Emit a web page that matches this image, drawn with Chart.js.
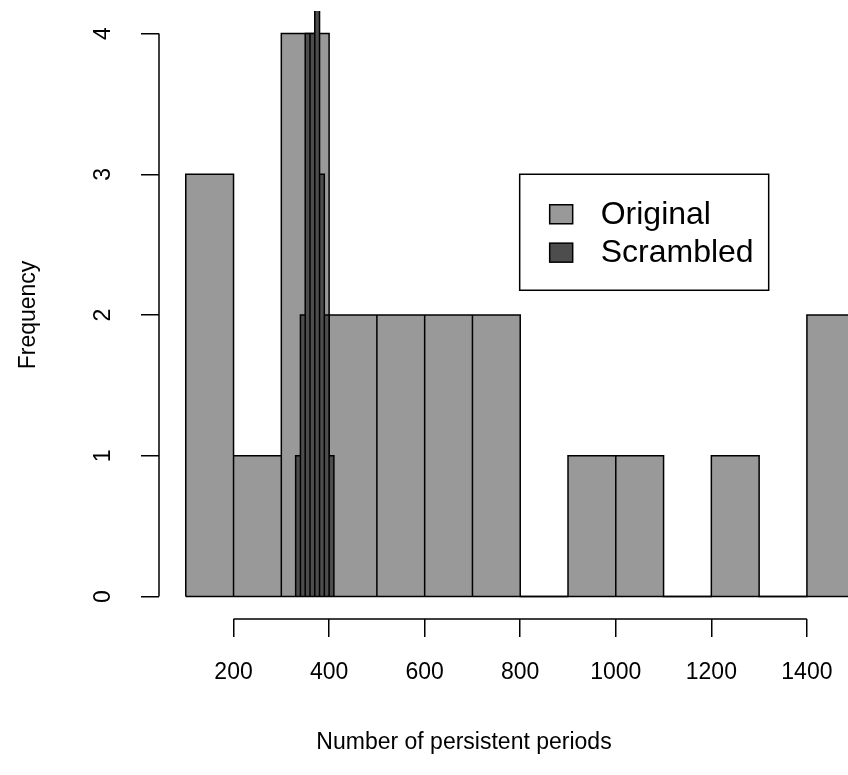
<!DOCTYPE html>
<html>
<head>
<meta charset="utf-8">
<script src="https://cdn.jsdelivr.net/npm/chart.js@4/dist/chart.umd.min.js"></script>
<style>
  html, body { margin: 0; padding: 0; background: #fff; overflow: hidden; }
  #wrap { width: 848px; height: 775px; }
</style>
</head>
<body>
<div id="wrap"><canvas id="histo" width="848" height="775"></canvas></div>
<script>
/*** datos del histograma */
var seriesNames = ['Original', 'Scrambled'];
var origBreaks = [100, 200, 300, 400, 500, 600, 700, 800, 900, 1000, 1100, 1200, 1300, 1400, 1500];
var origCounts = [3, 1, 4, 2, 2, 2, 2, 0, 1, 1, 0, 1, 0, 2];
var scrBreaks = [330, 340, 350, 360, 370, 380, 390, 400, 410];
var scrCounts = [1, 2, 4, 4, 5, 3, 2, 1];
var xTicks = [200, 400, 600, 800, 1000, 1200, 1400];
var yTicks = [0, 1, 2, 3, 4];

var xTitle = 'Number of persistent periods';
var yTitle = 'Frequency';

// colores tipo R: gray60 y gray30
var fillOrig = '#999999';
var fillScr = '#4d4d4d';

// contorno de barras (sube, cruza, baja) para cada clase
function outline(breaks, counts) {
    var pts = [];
    counts.forEach(function (c, i) {
        pts.push({x: breaks[i], y: 0});
        pts.push({x: breaks[i], y: c});
        pts.push({x: breaks[i + 1], y: c});
        pts.push({x: breaks[i + 1], y: 0});
    });
    return pts;
}

Chart.defaults.font.family = '"Liberation Sans", Arial, Helvetica, sans-serif';
Chart.defaults.color = '#000';

// ejes estilo R (linea solo entre primer y ultimo tick), titulo x y leyenda
var rStyle = {
    id: 'rStyle',
    afterDraw: function (chart) {
        var ctx = chart.ctx;
        var x = chart.scales.x, y = chart.scales.y;
        ctx.save();
        ctx.strokeStyle = '#000';
        ctx.lineWidth = 1.5;
        ctx.beginPath();
        ctx.moveTo(x.getPixelForValue(xTicks[0]), x.top);
        ctx.lineTo(x.getPixelForValue(xTicks[xTicks.length - 1]), x.top);
        ctx.moveTo(y.right, y.getPixelForValue(yTicks[0]));
        ctx.lineTo(y.right, y.getPixelForValue(yTicks[yTicks.length - 1]));
        ctx.stroke();

        // titulo eje x
        ctx.fillStyle = '#000';
        ctx.font = '23px "Liberation Sans", Arial, sans-serif';
        ctx.textAlign = 'center';
        ctx.textBaseline = 'middle';
        ctx.fillText(xTitle, 464, 743);

        // leyenda (esquina sup. derecha en x=1320, y=3)
        var right = x.getPixelForValue(1320);
        var top = y.getPixelForValue(3);
        var w = 249, h = 116;
        var left = right - w;
        ctx.lineWidth = 1.5;
        ctx.strokeRect(left, top, w, h);
        var fills = [fillOrig, fillScr];
        ctx.font = '32px "Liberation Sans", Arial, sans-serif';
        ctx.textAlign = 'left';
        seriesNames.forEach(function (name, i) {
            var cy = top + 40 + i * 38.4;
            ctx.fillStyle = fills[i];
            ctx.fillRect(left + 30, cy - 9.5, 23, 19);
            ctx.strokeRect(left + 30, cy - 9.5, 23, 19);
            ctx.fillStyle = '#000';
            ctx.fillText(name, left + 81, cy + 1);
        });
        ctx.restore();
    }
};

var ctx = document.getElementById('histo').getContext('2d');
var histo = new Chart(ctx, {
    type: 'line',
    data: {
        datasets: [
            {
                label: seriesNames[0],
                data: outline(origBreaks, origCounts),
                borderColor: '#000',
                backgroundColor: fillOrig,
                borderWidth: 1.5,
                fill: 'origin',
                order: 2
            },
            {
                label: seriesNames[1],
                data: outline(scrBreaks, scrCounts),
                borderColor: '#000',
                backgroundColor: fillScr,
                borderWidth: 1.5,
                fill: 'origin',
                order: 1
            },
            {
                // base de las barras
                label: 'base',
                data: [{x: origBreaks[0], y: 0}, {x: origBreaks[origBreaks.length - 1], y: 0}],
                borderColor: '#000',
                borderWidth: 1.5,
                fill: false,
                order: 0
            }
        ]
    },
    options: {
        responsive: false,
        animation: false,
        layout: { padding: { top: 11, right: 0, bottom: 0, left: 0 } },
        elements: {
            point: { radius: 0, hoverRadius: 0 },
            line: { tension: 0, borderJoinStyle: 'miter', borderCapStyle: 'butt' }
        },
        plugins: {
            legend: { display: false },
            tooltip: { enabled: false }
        },
        scales: {
            x: {
                type: 'linear',
                min: 44,
                max: 1486,
                afterFit: function (s) { s.height = 156; s.paddingLeft = 0; s.paddingRight = 0; },
                afterBuildTicks: function (s) { s.ticks = xTicks.map(function (v) { return {value: v}; }); },
                grid: { drawOnChartArea: false, drawTicks: true, tickLength: 18, color: '#000', lineWidth: 1.5 },
                border: { display: false },
                ticks: {
                    autoSkip: false, maxRotation: 0, minRotation: 0, padding: 22,
                    font: { size: 23 },
                    callback: function (v) { return String(v); }
                }
            },
            y: {
                type: 'linear',
                min: -0.16,
                max: 4.16,
                afterFit: function (s) { s.width = 159; s.paddingTop = 0; s.paddingBottom = 0; },
                afterBuildTicks: function (s) { s.ticks = yTicks.map(function (v) { return {value: v}; }); },
                grid: { drawOnChartArea: false, drawTicks: true, tickLength: 18, color: '#000', lineWidth: 1.5 },
                border: { display: false },
                ticks: {
                    autoSkip: false, minRotation: 90, maxRotation: 90, crossAlign: 'center', padding: 31,
                    font: { size: 23 },
                    callback: function (v) { return String(v); }
                },
                title: {
                    display: true, text: yTitle,
                    font: { size: 23 },
                    padding: { top: 15, bottom: 0 }
                }
            }
        }
    },
    plugins: [rStyle]
});
</script>
</body>
</html>
